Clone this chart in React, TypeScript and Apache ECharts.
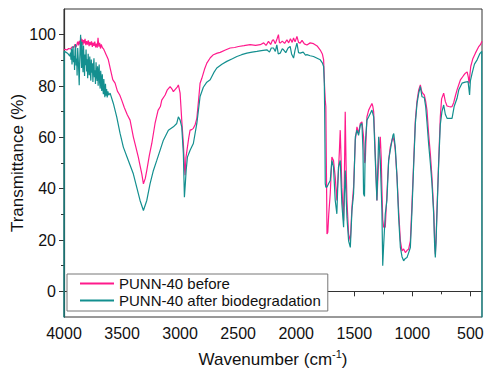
import React, { useEffect, useRef } from "react";
import * as echarts from "echarts";

const seriesNames = ["PUNN-40 before", "PUNN-40 after biodegradation"];
const seriesColors = ["#FF1A8C", "#138F8F"];

const xMajorTicks = [500, 1000, 1500, 2000, 2500, 3000, 3500, 4000];
const xMinorTicks = [750, 1250, 1750, 2250, 2750, 3250, 3750];
const yMajorTicks = [0, 20, 40, 60, 80, 100];
const yMinorTicks = [10, 30, 50, 70, 90];

const before: number[][] = [
  [4000, 94.0], [3990, 94.3], [3975, 94.0], [3960, 94.6], [3945, 94.4], [3930, 95.2], [3915, 95.0], [3905, 96.3],
  [3897, 95.2], [3890, 96.0], [3882, 97.3], [3875, 95.8], [3868, 97.6], [3861, 96.2], [3855, 98.9], [3849, 96.8],
  [3843, 98.2], [3837, 96.0], [3831, 97.9], [3825, 96.6], [3819, 98.4], [3812, 95.9], [3805, 97.5], [3798, 96.1],
  [3791, 97.8], [3784, 95.5], [3777, 97.2], [3770, 95.9], [3763, 97.4], [3756, 95.2], [3749, 96.9], [3742, 95.6],
  [3735, 97.3], [3728, 95.0], [3721, 96.5], [3714, 94.9], [3707, 98.8], [3700, 95.3], [3693, 96.8], [3686, 94.6],
  [3679, 96.2], [3670, 95.0], [3660, 94.5], [3650, 93.5], [3640, 92.5], [3630, 91.5], [3618, 90.2], [3600, 86.5],
  [3580, 82.5], [3560, 81.1], [3540, 78], [3520, 76.5], [3503, 74.5], [3480, 71.5], [3455, 68.8], [3431, 66.7],
  [3403, 60.2], [3380, 56.0], [3360, 52.3], [3345, 49.0], [3330, 45.8], [3316, 41.9], [3300, 44.0], [3287, 47.1],
  [3265, 53], [3244, 57.6], [3230, 61.5], [3216, 65.4], [3190, 70.5], [3170, 72.0], [3158, 74.5], [3129, 76.5],
  [3110, 78.5], [3086, 79.8], [3070, 78.8], [3058, 77.8], [3040, 78.8], [3025, 79.6], [3015, 80.4], [3008, 79.0],
  [3000, 77.2], [2986, 66.7], [2972, 57.6], [2962, 48], [2957, 45.2], [2950, 52], [2937, 56.2], [2925, 60.0],
  [2914, 62.8], [2900, 63.0], [2886, 63.5], [2870, 65.0], [2856, 67.4], [2840, 75.0], [2828, 81.1], [2813, 83.0],
  [2790, 86.5], [2770, 88.9], [2740, 91.0], [2713, 92.2], [2680, 92.8], [2655, 93.1], [2610, 94.0], [2569, 94.8],
  [2530, 95.0], [2497, 95.4], [2450, 95.7], [2397, 96.1], [2350, 95.8], [2310, 96.1], [2280, 96.8], [2260, 95.8],
  [2239, 97.4], [2220, 96.2], [2205, 97.8], [2196, 98.0], [2180, 96.5], [2165, 98.4], [2153, 100], [2145, 97.0],
  [2138, 96.7], [2120, 97.5], [2100, 96.6], [2080, 98.0], [2065, 96.8], [2050, 98.4], [2035, 97.0], [2023, 98.7],
  [2010, 97.2], [1994, 99.3], [1980, 97.0], [1966, 96.7], [1950, 97.8], [1930, 96.4], [1908, 96.0], [1880, 96.8],
  [1851, 96.5], [1820, 95.6], [1793, 94.0], [1775, 92.5], [1764, 90.2], [1756, 80], [1750, 74.5], [1745, 72],
  [1741, 52], [1738, 38], [1735, 22.3], [1728, 23], [1720, 30], [1707, 38], [1693, 52.3], [1679, 51],
  [1664, 44.5], [1650, 35.4], [1643, 42], [1636, 47.1], [1628, 55], [1621, 62.8], [1614, 52], [1607, 40.6],
  [1592, 27.5], [1585, 45], [1578, 70.0], [1571, 50], [1563, 35.4], [1549, 22.3], [1534, 19.7], [1520, 32.8],
  [1506, 40.6], [1491, 58.9], [1477, 64.1], [1463, 61.5], [1448, 65.4], [1434, 66.0], [1420, 60.2], [1410, 50],
  [1405, 51.0], [1398, 60], [1391, 68.0], [1376, 70.6], [1362, 71.9], [1348, 73.2], [1340, 72], [1333, 70.0],
  [1319, 53.7], [1305, 35.4], [1290, 51.0], [1276, 60.2], [1268, 52], [1262, 40], [1255, 28], [1247, 25],
  [1233, 25], [1219, 38], [1204, 51], [1190, 56.2], [1175, 59], [1167, 60.2], [1155, 58], [1147, 55],
  [1132, 44.5], [1118, 31.5], [1103, 19.7], [1089, 15.8], [1075, 16.5], [1060, 15.1], [1045, 16.0], [1032, 16.4],
  [1017, 19.7], [1003, 34.1], [988, 51], [974, 66.7], [960, 74], [945, 78.5], [931, 80.4], [920, 78],
  [911, 77.2], [897, 76.5], [885, 74], [874, 70.6], [860, 61.5], [845, 53.7], [831, 44.5], [816, 31.5],
  [808, 20], [802, 14.5], [796, 20], [788, 31.5], [773, 51], [759, 68], [748, 75], [730, 77.2],
  [716, 74], [701, 72.2], [685, 72.0], [672, 71.9], [658, 72.0], [644, 73.5], [630, 76], [615, 78.5],
  [600, 80.5], [586, 82.4], [560, 84], [543, 85], [528, 85.5], [518, 83.5], [511, 81], [505, 84],
  [497, 87.6], [480, 90.5], [457, 92.8], [430, 95.2], [414, 96.1], [400, 97.4]
];

const after: number[][] = [
  [4000, -20], [3998, 93.5], [3985, 93.2], [3970, 92.8], [3958, 92.1], [3950, 91.6], [3944, 93.0], [3940, 90.2],
  [3936, 94.6], [3931, 88.4], [3927, 92.7], [3922, 95.6], [3918, 89.3], [3913, 91.8], [3909, 86.2], [3905, 93.9],
  [3900, 96.3], [3896, 88.0], [3891, 90.7], [3887, 84.1], [3882, 94.8], [3878, 91.2], [3874, 86.9], [3869, 80.3],
  [3865, 89.5], [3861, 95.1], [3857, 100], [3853, 92.4], [3849, 87.0], [3845, 97.2], [3841, 90.1], [3836, 85.4],
  [3832, 95.8], [3827, 89.6], [3823, 83.9], [3819, 92.3], [3814, 88.1], [3810, 94.2], [3805, 85.7], [3801, 90.4],
  [3796, 83.0], [3792, 92.6], [3787, 87.4], [3783, 84.2], [3778, 91.5], [3774, 86.0], [3769, 82.1], [3765, 90.3],
  [3760, 85.2], [3756, 88.9], [3751, 81.6], [3747, 87.3], [3742, 90.8], [3738, 83.4], [3733, 86.1], [3729, 80.8],
  [3724, 89.2], [3720, 84.5], [3715, 82.0], [3711, 87.7], [3706, 80.1], [3702, 85.3], [3697, 88.4], [3693, 81.2],
  [3688, 79.0], [3684, 85.9], [3679, 82.3], [3675, 78.1], [3670, 84.6], [3666, 79.4], [3661, 76.8], [3657, 82.7],
  [3652, 78.0], [3648, 75.6], [3643, 80.9], [3638, 76.2], [3633, 78.8], [3628, 75.5], [3622, 77.9], [3615, 76.4],
  [3603, 77.2], [3575, 73.2], [3546, 68.0], [3517, 61.5], [3489, 56.2], [3446, 51.0], [3403, 45.8],
  [3374, 40.6], [3345, 35.4], [3316, 31.5], [3287, 35.4], [3259, 41.9], [3230, 47.1], [3201, 51.0], [3172, 55.0],
  [3144, 58.9], [3101, 62.8], [3058, 64.1], [3029, 65.4], [3015, 68.0], [3000, 66.7], [2986, 64.1], [2972, 53.7],
  [2963, 36.7], [2955, 42], [2948, 47.1], [2937, 52.3], [2914, 55.0], [2886, 57.6], [2856, 65.4], [2828, 75.9],
  [2800, 79.5], [2770, 81.5], [2741, 82.4], [2710, 85.2], [2684, 87], [2640, 88.5], [2598, 89.6], [2550, 90.6],
  [2511, 91.5], [2470, 92.2], [2425, 92.8], [2380, 93.2], [2339, 93.5], [2300, 93.8], [2253, 94.1], [2230, 93.2],
  [2215, 94.8], [2196, 94.8], [2180, 93.5], [2167, 96], [2155, 92.5], [2138, 92.8], [2120, 94.5], [2109, 94.1],
  [2090, 93.0], [2070, 94.8], [2052, 95.4], [2040, 92.5], [2023, 90.9], [2010, 94], [1994, 96.7], [1980, 93.0],
  [1966, 92.8], [1940, 93.2], [1920, 92.0], [1908, 92.2], [1880, 91.8], [1851, 91.5], [1820, 90.8], [1793, 90.2],
  [1775, 89], [1764, 87.6], [1758, 81], [1755, 70], [1752, 55], [1750, 42], [1745, 40.6], [1735, 40.6],
  [1721, 42], [1707, 43.2], [1693, 51], [1679, 48.4], [1664, 35.4], [1650, 30.2], [1643, 40], [1636, 48.4],
  [1621, 51], [1607, 34.1], [1592, 25], [1585, 38], [1578, 47.1], [1571, 38], [1563, 28.8], [1549, 19.7],
  [1534, 17.1], [1520, 31.5], [1506, 38], [1491, 60.2], [1477, 62.8], [1463, 60.8], [1448, 64.7], [1434, 65.4],
  [1425, 55], [1420, 38], [1412, 37], [1405, 57.6], [1391, 66.7], [1376, 68], [1362, 69.3], [1348, 70.6],
  [1333, 68], [1319, 51], [1305, 35.4], [1290, 60.2], [1276, 51], [1268, 40], [1262, 31.5], [1255, 10],
  [1247, 18], [1233, 30.2], [1219, 35.4], [1204, 51], [1190, 55], [1167, 60.8], [1160, 61.5], [1147, 56.2],
  [1132, 44.5], [1118, 28.8], [1103, 17.1], [1089, 13.5], [1075, 11.9], [1060, 12.8], [1046, 13.2], [1032, 15],
  [1017, 17.1], [1003, 31.5], [988, 49.7], [974, 65.4], [960, 73], [945, 77.2], [931, 79.8], [917, 75.8],
  [897, 75.5], [885, 72], [874, 66], [860, 57.6], [845, 50], [831, 42], [816, 30], [808, 18],
  [802, 13.2], [796, 19], [788, 30], [773, 50], [759, 65], [745, 70], [730, 72.6], [716, 69],
  [701, 67.4], [672, 67.4], [658, 67.4], [640, 72], [615, 75.2], [600, 78.5], [572, 81.1], [545, 81.5],
  [520, 81.7], [513, 79], [507, 76.5], [500, 82], [485, 85], [465, 88.5], [442, 90.2], [420, 92.5],
  [402, 93.5], [400, -20]
];

const FONT = "Liberation Sans, Arial, sans-serif";

export default function App() {
  const ref = useRef<HTMLDivElement>(null);
  useEffect(() => {
    if (!ref.current) return;
    const chart = echarts.init(ref.current, null, { renderer: "svg" });
    const axisColor = "#333";
    const baseX = {
      type: "value",
      min: 400,
      max: 4000,
      inverse: true,
      splitLine: { show: false },
    };
    const baseY = {
      type: "value",
      min: -10,
      max: 110,
      splitLine: { show: false },
    };
    const plain = (v: number) => String(v);
    chart.setOption({
      animation: false,
      backgroundColor: "#fff",
      textStyle: { fontFamily: FONT },
      grid: {
        left: 64,
        right: 2,
        top: 9,
        bottom: 52,
        containLabel: false,
        outerBoundsMode: "none",
        show: true,
        borderColor: axisColor,
        borderWidth: 1,
        backgroundColor: "transparent",
      },
      xAxis: [
        {
          ...baseX,
          position: "bottom",
          axisLine: { show: true, lineStyle: { color: axisColor, width: 1.2 } },
          axisTick: { show: true, inside: false, length: 5, customValues: xMajorTicks, lineStyle: { color: axisColor } },
          axisLabel: { show: true, customValues: xMajorTicks, formatter: plain, margin: 8, fontSize: 16, color: "#111", fontFamily: FONT, hideOverlap: false },
          name: "{n|Wavenumber (cm}{s|-1}{n|)}",
          nameLocation: "middle",
          nameGap: 31,
          nameMoveOverlap: false,
          nameTextStyle: {
            rich: {
              n: { fontSize: 17, fontFamily: FONT, color: "#111", lineHeight: 22 },
              s: { fontSize: 11, fontFamily: FONT, color: "#111", verticalAlign: "top", lineHeight: 14 },
            },
          },
        },
        {
          ...baseX,
          position: "bottom",
          axisLine: { show: false },
          axisTick: { show: true, inside: false, length: 3, customValues: xMinorTicks, lineStyle: { color: axisColor } },
          axisLabel: { show: false },
        },
      ],
      yAxis: [
        {
          ...baseY,
          position: "left",
          axisLine: { show: true, lineStyle: { color: axisColor, width: 1.2 } },
          axisTick: { show: true, inside: false, length: 5, customValues: yMajorTicks, lineStyle: { color: axisColor } },
          axisLabel: { show: true, customValues: yMajorTicks, formatter: plain, margin: 8, fontSize: 16, color: "#111", fontFamily: FONT },
          name: "Transmittance (%)",
          nameLocation: "middle",
          nameGap: 38,
          nameMoveOverlap: false,
          nameTextStyle: { fontSize: 17, color: "#111", fontFamily: FONT },
        },
        {
          ...baseY,
          position: "left",
          axisLine: { show: false },
          axisTick: { show: true, inside: false, length: 3, customValues: yMinorTicks, lineStyle: { color: axisColor } },
          axisLabel: { show: false },
        },
      ],
      legend: {
        orient: "vertical",
        left: 67,
        top: 274,
        padding: [2, 7, 3, 12],
        itemGap: 2,
        itemWidth: 34,
        itemHeight: 16,
        itemStyle: { opacity: 0 },
        borderColor: "#777",
        borderWidth: 1,
        backgroundColor: "#fff",
        textStyle: { fontSize: 15, color: "#111", fontFamily: FONT },
        data: seriesNames,
      },
      series: [
        {
          name: seriesNames[0],
          type: "line",
          data: before,
          xAxisIndex: 0,
          yAxisIndex: 0,
          symbol: "none",
          clip: true,
          lineStyle: { color: seriesColors[0], width: 1.2 },
          itemStyle: { color: seriesColors[0] },
        },
        {
          name: seriesNames[1],
          type: "line",
          data: after,
          xAxisIndex: 0,
          yAxisIndex: 0,
          symbol: "none",
          clip: true,
          lineStyle: { color: seriesColors[1], width: 1.2 },
          itemStyle: { color: seriesColors[1] },
        },
      ],
    });
    return () => chart.dispose();
  }, []);
  return (
    <div
      ref={ref}
      style={{ position: "fixed", left: 0, top: 0, width: 484, height: 369, background: "#fff" }}
    />
  );
}
